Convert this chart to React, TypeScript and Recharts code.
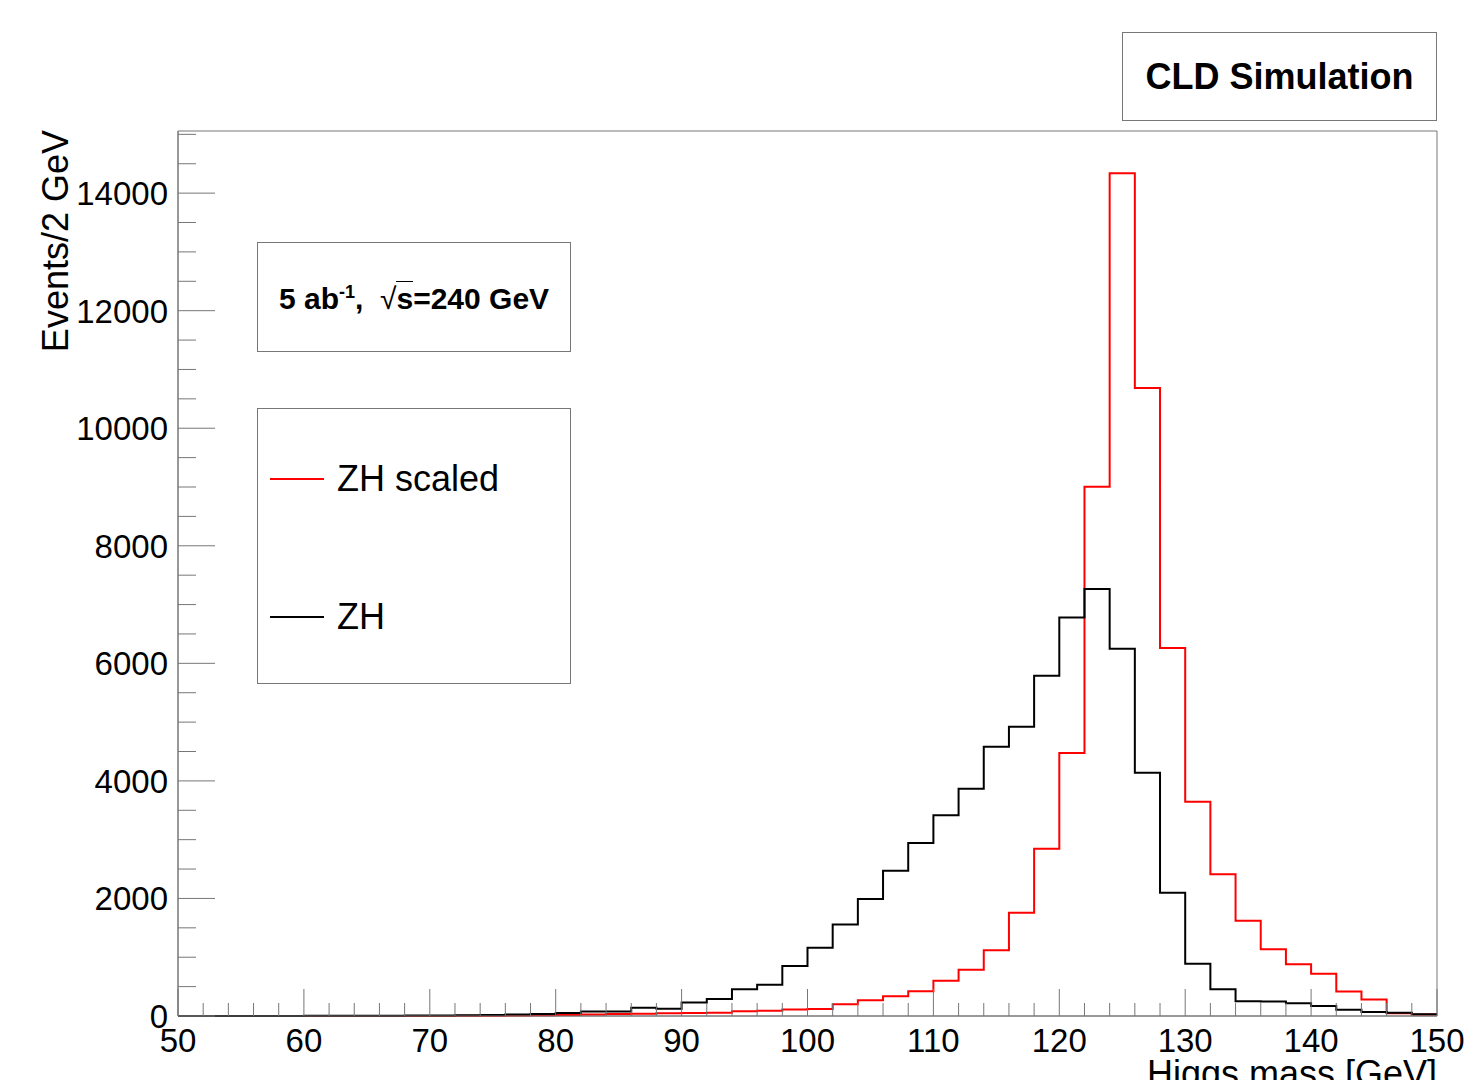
import React from "react";
import { LineChart, Line, XAxis, YAxis, ReferenceArea, Legend } from "recharts";

// lower bin edges, 2 GeV bins from 50 to 150
const binEdges = [
  50, 52, 54, 56, 58, 60, 62, 64, 66, 68,
  70, 72, 74, 76, 78, 80, 82, 84, 86, 88,
  90, 92, 94, 96, 98, 100, 102, 104, 106, 108,
  110, 112, 114, 116, 118, 120, 122, 124, 126, 128,
  130, 132, 134, 136, 138, 140, 142, 144, 146, 148,
];

const zh = [
  0, 0, 1, 1, 2, 3, 4, 5, 6, 8,
  10, 14, 18, 24, 32, 50, 75, 78, 140, 125,
  230, 290, 455, 530, 850, 1160, 1555, 1990, 2470, 2945,
  3415, 3865, 4580, 4920, 5790, 6780, 7265, 6250, 4140, 2095,
  890, 455, 250, 245, 215, 170, 105, 70, 55, 30,
];

const zhScaled = [
  0, 0, 0, 0, 0, 0, 0, 0, 0, 0,
  0, 3, 5, 8, 12, 18, 25, 32, 40, 48,
  50, 55, 80, 90, 112, 118, 200, 270, 335, 420,
  600, 785, 1120, 1755, 2845, 4475, 9005, 14340, 10685, 6260,
  3645, 2410, 1620, 1135, 880, 720, 415, 280, 45, 25,
];

const xTicks = Array.from({ length: 51 }, (_, i) => 50 + i * 2);
const yTicks = Array.from({ length: 31 }, (_, i) => i * 500);
const yMax = 15057;

const data = binEdges
  .map((m, i) => ({ m, zh: zh[i], zhScaled: zhScaled[i] }))
  .concat([{ m: 150, zh: zh[zh.length - 1], zhScaled: zhScaled[zhScaled.length - 1] }]);

const font = "'Liberation Sans', Arial, Helvetica, sans-serif";
const gray = "#777";

const XTick = (props: any) => {
  const { x, y, payload } = props;
  const v = payload.value;
  const major = v % 10 === 0;
  return (
    <g>
      <line x1={x} x2={x} y1={y} y2={y - (major ? 27 : 13)} stroke={gray} strokeWidth={1} />
      {major && (
        <text x={x} y={y + 36} textAnchor="middle" fontSize={33} fontFamily={font} fill="#000">
          {v}
        </text>
      )}
    </g>
  );
};

const YTick = (props: any) => {
  const { x, y, payload } = props;
  const v = payload.value;
  const major = v % 2000 === 0;
  return (
    <g>
      <line x1={x} x2={x + (major ? 37 : 18)} y1={y} y2={y} stroke={gray} strokeWidth={1} />
      {major && (
        <text x={x - 10} y={y + 12} textAnchor="end" fontSize={33} fontFamily={font} fill="#000">
          {v}
        </text>
      )}
    </g>
  );
};

const LegendBox = (props: any) => {
  const { payload } = props;
  const order = ["ZH scaled", "ZH"];
  const items = order.map((n) => payload.find((p: any) => p.value === n)).filter(Boolean);
  return (
    <div
      style={{
        width: 314,
        height: 276,
        boxSizing: "border-box",
        border: `1px solid ${gray}`,
        background: "#fff",
        position: "relative",
        fontFamily: font,
      }}
    >
      {items.map((it: any, i: number) => (
        <div
          key={it.value}
          style={{ position: "absolute", left: 12, top: 70 + i * 138 - 22, height: 44, display: "flex", alignItems: "center" }}
        >
          <div style={{ width: 54, height: 2, background: it.color }} />
          <span style={{ marginLeft: 13, fontSize: 36, color: "#000" }}>{it.value}</span>
        </div>
      ))}
    </div>
  );
};

export default function App() {
  return (
    <div style={{ margin: -8, position: "relative", width: 1473, height: 1088, background: "#fff" }}>
      <LineChart width={1473} height={1088} data={data} margin={{ top: 131, right: 36, bottom: 0, left: 0 }}>
        <XAxis
          dataKey="m"
          type="number"
          domain={[50, 150]}
          ticks={xTicks}
          interval={0}
          height={72}
          tickSize={0}
          tickMargin={0}
          tickLine={false}
          tick={<XTick />}
          axisLine={{ stroke: gray }}
          label={{
            content: (p: any) => {
              const vb = p.viewBox;
              return (
                <text x={vb.x + vb.width} y={vb.y + 70} textAnchor="end" fontSize={36} fontFamily={font} fill="#000">
                  Higgs mass [GeV]
                </text>
              );
            },
          }}
        />
        <YAxis
          type="number"
          domain={[0, yMax]}
          ticks={yTicks}
          interval={0}
          width={178}
          tickSize={0}
          tickMargin={0}
          tickLine={false}
          tick={<YTick />}
          axisLine={{ stroke: gray }}
          label={{
            content: () => (
              <text
                x={68}
                y={130}
                transform="rotate(-90, 68, 130)"
                textAnchor="end"
                fontSize={36}
                fontFamily={font}
                fill="#000"
              >
                Events/2 GeV
              </text>
            ),
          }}
        />
        <ReferenceArea x1={50} x2={150} y1={0} y2={yMax} fill="none" stroke={gray} strokeWidth={1} />
        <Line
          type="stepAfter"
          dataKey="zhScaled"
          name="ZH scaled"
          stroke="#ff0000"
          strokeWidth={2}
          dot={false}
          isAnimationActive={false}
        />
        <Line
          type="stepAfter"
          dataKey="zh"
          name="ZH"
          stroke="#000000"
          strokeWidth={2}
          dot={false}
          isAnimationActive={false}
        />
        <Legend
          layout="horizontal"
          verticalAlign="middle"
          align="center"
          content={<LegendBox />}
          wrapperStyle={{ position: "absolute", left: 257, top: 408, width: 314, height: 276 }}
        />
      </LineChart>
      <div
        style={{
          position: "absolute",
          left: 1122,
          top: 32,
          width: 315,
          height: 89,
          boxSizing: "border-box",
          border: `1px solid ${gray}`,
          display: "flex",
          alignItems: "center",
          justifyContent: "center",
          fontFamily: font,
          fontWeight: "bold",
          fontSize: 36,
        }}
      >
        CLD Simulation
      </div>
      <div
        style={{
          position: "absolute",
          left: 257,
          top: 242,
          width: 314,
          height: 110,
          boxSizing: "border-box",
          border: `1px solid ${gray}`,
          display: "flex",
          alignItems: "center",
          justifyContent: "center",
          fontFamily: font,
          fontWeight: "bold",
          fontSize: 30,
          background: "#fff",
        }}
      >
        <span style={{ marginTop: 4 }}>
          5 ab<sup style={{ fontSize: 18 }}>-1</sup>,&nbsp;&nbsp;
          <span style={{ fontWeight: "normal" }}>√</span>
          <span style={{ borderTop: "1.5px solid #000" }}>s</span>=240 GeV
        </span>
      </div>
    </div>
  );
}
